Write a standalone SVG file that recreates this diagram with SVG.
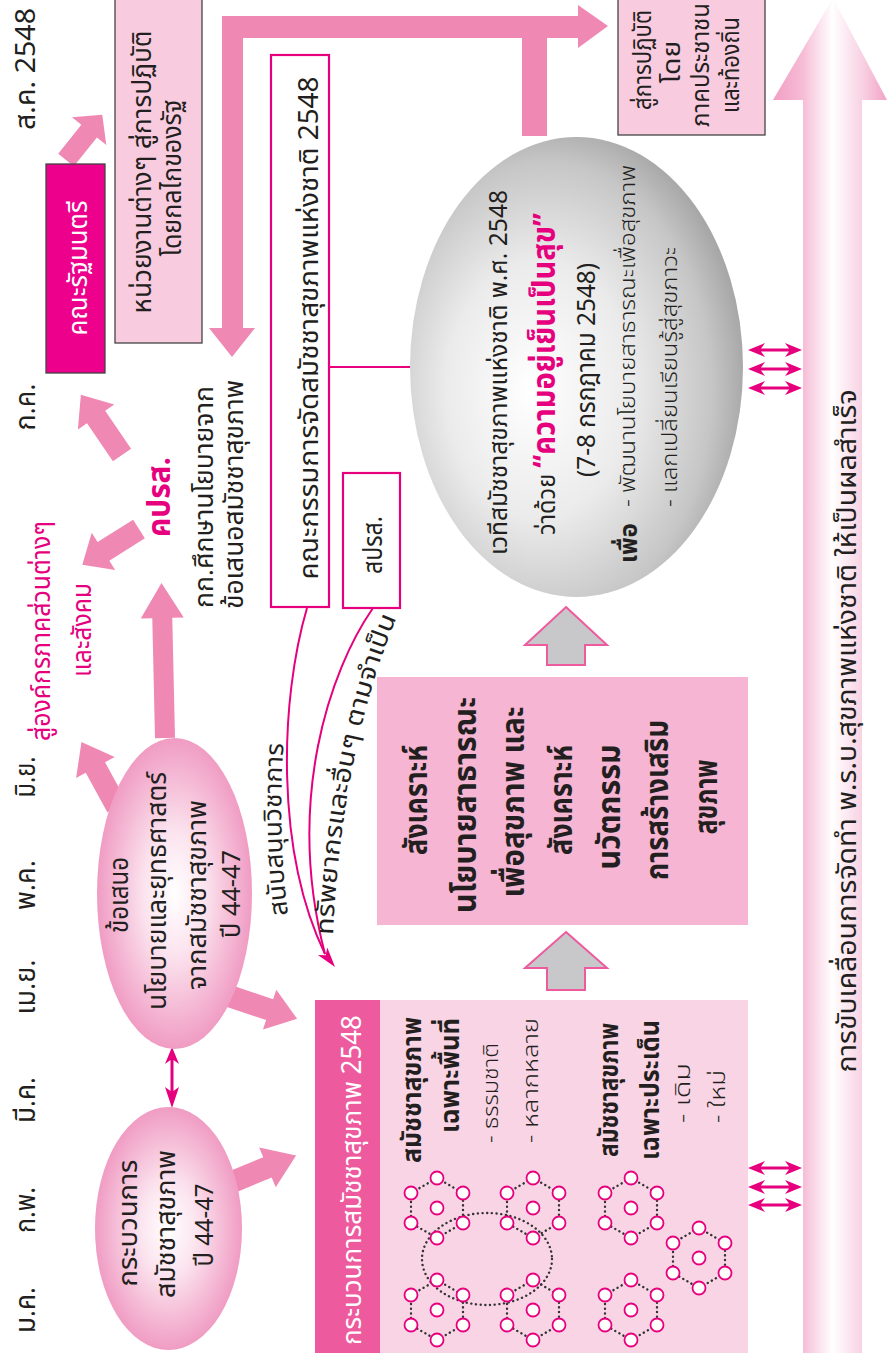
<svg xmlns="http://www.w3.org/2000/svg" width="888" height="1353" viewBox="0 0 888 1353">
<defs>
<style>
.t{font-family:"Noto Sans Thai","Noto Sans Thai Looped","Noto Sans","DejaVu Sans",sans-serif;fill:#231f20}
.mo{font-size:28px;text-anchor:middle}
.mid{text-anchor:middle}
.b{font-weight:bold}
.mag{fill:#e6007e}
.wh{fill:#fff}
.pk{fill:#f088b4}
.mline{fill:none;stroke:#e6007e;stroke-width:2}
.dot{fill:none;stroke:#333;stroke-width:2.4;stroke-linecap:round;stroke-dasharray:0.1 4.6}
.cir{fill:#fff;stroke:#e6007e;stroke-width:1.8}
.dbl{fill:#e6007e}
.garr{fill:#c8c8ca;stroke:#ee5a9e;stroke-width:2}
.box{stroke:#444;stroke-width:1.3}
</style>
<radialGradient id="gPink" cx="50%" cy="50%" r="50%">
<stop offset="0" stop-color="#ffffff"/>
<stop offset="0.4" stop-color="#fbe3ee"/>
<stop offset="1" stop-color="#f09cc3"/>
</radialGradient>
<radialGradient id="gGray" cx="0.42" cy="0.55" r="0.62" fx="0.36" fy="0.55">
<stop offset="0" stop-color="#ffffff"/>
<stop offset="0.45" stop-color="#ebebeb"/>
<stop offset="0.8" stop-color="#c6c6c6"/>
<stop offset="1" stop-color="#9e9e9e"/>
</radialGradient>
<linearGradient id="gArr" x1="773" y1="0" x2="887" y2="0" gradientUnits="userSpaceOnUse">
<stop offset="0" stop-color="#f29ec4"/>
<stop offset="0.26" stop-color="#f6bcd6"/>
<stop offset="0.52" stop-color="#ffffff"/>
<stop offset="0.78" stop-color="#f8d2e3"/>
<stop offset="1" stop-color="#f2a3c7"/>
</linearGradient>
<g id="hex">
<path class="dot" d="M0,-30 L26,-15 L26,15 L0,30 L-26,15 L-26,-15 Z"/>
<circle class="cir" cx="0" cy="-30" r="6.5"/>
<circle class="cir" cx="26" cy="-15" r="6.5"/>
<circle class="cir" cx="26" cy="15" r="6.5"/>
<circle class="cir" cx="0" cy="30" r="6.5"/>
<circle class="cir" cx="-26" cy="15" r="6.5"/>
<circle class="cir" cx="-26" cy="-15" r="6.5"/>
<circle class="cir" cx="0" cy="0" r="6.5"/>
</g>
<path id="dblH" d="M0,0 L17,-7 L13,-1.5 L41,-1.5 L37,-7 L54,0 L37,7 L41,1.5 L13,1.5 L17,7 Z"/>
<path id="pTxt1" d="M 333,935 C 338,820 360,700 400,610"/>
<path id="pTxt2" d="M 288,915 Q 277,830 284,738"/>
</defs>

<rect width="888" height="1353" fill="#fff"/>

<g id="months" class="t mo">
<text x="35" y="1310" textLength="46" lengthAdjust="spacingAndGlyphs" transform="rotate(-90 35 1310)">ม.ค.</text>
<text x="35" y="1210" textLength="46" lengthAdjust="spacingAndGlyphs" transform="rotate(-90 35 1210)">ก.พ.</text>
<text x="35" y="1100" textLength="46" lengthAdjust="spacingAndGlyphs" transform="rotate(-90 35 1100)">มี.ค.</text>
<text x="35" y="987" textLength="55" lengthAdjust="spacingAndGlyphs" transform="rotate(-90 35 987)">เม.ย.</text>
<text x="35" y="885" textLength="50" lengthAdjust="spacingAndGlyphs" transform="rotate(-90 35 885)">พ.ค.</text>
<text x="35" y="777" textLength="41" lengthAdjust="spacingAndGlyphs" transform="rotate(-90 35 777)">มิ.ย.</text>
<text x="35" y="407" textLength="47" lengthAdjust="spacingAndGlyphs" transform="rotate(-90 35 407)">ก.ค.</text>
<text x="35" y="69" textLength="122" lengthAdjust="spacingAndGlyphs" transform="rotate(-90 35 69)">ส.ค. 2548</text>
</g>

<g id="drive">
<polygon points="833,-2 887,100 862,100 862,1353 803,1353 803,100 773,100" fill="url(#gArr)"/>
<text class="t mid" font-size="27" x="856" y="731" textLength="683" lengthAdjust="spacingAndGlyphs" transform="rotate(-90 856 731)">การขับเคลื่อนการจัดทำ พ.ร.บ.สุขภาพแห่งชาติ ให้เป็นผลสำเร็จ</text>
</g>

<g id="connectors">
<polygon class="pk" points="232,357 255,328 243,328 243,38 522,38 522,136 547,136 547,38 578,38 578,48 608,26 578,5 578,16 222,16 222,328 209,328"/>
<polygon class="pk" transform="translate(66,160) rotate(-51.3)" points="0,-10 37,-10 37,-22 58,0 37,22 37,10 0,10"/>
<polygon class="pk" transform="translate(122,455) rotate(-124.3)" points="0,-11 46,-11 46,-22 73,0 46,22 46,11 0,11"/>
<polygon class="pk" transform="translate(139,529) rotate(147.8)" points="0,-11 42,-11 42,-22 67,0 42,22 42,11 0,11"/>
<polygon class="pk" transform="translate(165,738) rotate(-91.3)" points="0,-10 120,-10 120,-21.5 155,0 120,21.5 120,10 0,10"/>
<polygon class="pk" transform="translate(117,807) rotate(-118.7)" points="0,-11 45,-11 45,-22 74,0 45,22 45,11 0,11"/>
<polygon class="pk" transform="translate(226,995) rotate(18.5)" points="0,-11 46,-11 46,-21 75,0 46,21 46,11 0,11"/>
<polygon class="pk" transform="translate(225,1185) rotate(-22.6)" points="0,-11 46,-11 46,-21.5 77,0 46,21.5 46,11 0,11"/>
<polygon class="garr" points="566,607 607,645 585,645 585,665 547,665 547,645 525,645"/>
<polygon class="garr" points="566,932 607,968 585,968 585,990 547,990 547,968 525,968"/>
<line class="mline" x1="329" y1="367" x2="412" y2="367"/>
<path class="mline" d="M307,608 C280,700 275,850 325,954"/>
<path class="mline" d="M373,608 C330,670 285,800 325,954"/>
<polygon class="dbl" points="335,967 317.9,955 325.7,955.2 327.3,947.6"/>
<path class="dbl" d="M172,1047 L179,1064 L173.5,1060 L173.5,1091 L179,1087 L172,1108 L165,1087 L170.5,1091 L170.5,1060 L165,1064 Z"/>
<use href="#dblH" class="dbl" x="748" y="350"/>
<use href="#dblH" class="dbl" x="748" y="369"/>
<use href="#dblH" class="dbl" x="748" y="388"/>
<use href="#dblH" class="dbl" x="748" y="1168"/>
<use href="#dblH" class="dbl" x="748" y="1187"/>
<use href="#dblH" class="dbl" x="748" y="1205"/>
<text class="t" font-size="25"><textPath href="#pTxt1" textLength="325" lengthAdjust="spacingAndGlyphs">ทรัพยากรและอื่นๆ ตามจำเป็น</textPath></text>
<text class="t" font-size="25"><textPath href="#pTxt2" textLength="172" lengthAdjust="spacingAndGlyphs">สนับสนุนวิชาการ</textPath></text>
</g>

<g id="cabinet">
<rect class="box" x="46" y="164" width="59" height="209" fill="#ec008c"/>
<text class="t wh mid" font-size="26" x="87" y="268" textLength="135" lengthAdjust="spacingAndGlyphs" transform="rotate(-90 87 268)">คณะรัฐมนตรี</text>
</g>

<g id="agencies">
<rect class="box" x="115" y="-2" width="87" height="345" fill="#f9cbdf"/>
<text class="t mid" font-size="26" x="151" y="172" textLength="283" lengthAdjust="spacingAndGlyphs" transform="rotate(-90 151 172)">หน่วยงานต่างๆ สู่การปฏิบัติ</text>
<text class="t mid" font-size="26" x="181" y="178" textLength="157" lengthAdjust="spacingAndGlyphs" transform="rotate(-90 181 178)">โดยกลไกของรัฐ</text>
</g>

<g id="committee">
<rect x="271" y="55" width="58" height="552" fill="#fff" stroke="#e6007e" stroke-width="2.2"/>
<text class="t mid" font-size="27" x="318" y="328" textLength="503" lengthAdjust="spacingAndGlyphs" transform="rotate(-90 318 328)">คณะกรรมการจัดสมัชชาสุขภาพแห่งชาติ 2548</text>
</g>

<g id="spros">
<rect x="343" y="473" width="57" height="135" fill="#fff" stroke="#e6007e" stroke-width="2.2"/>
<text class="t mid" font-size="27" x="382" y="545" textLength="58" lengthAdjust="spacingAndGlyphs" transform="rotate(-90 382 545)">สปรส.</text>
</g>

<g id="kprs">
<text class="t mag b mid" font-size="31" x="170" y="497" textLength="80" lengthAdjust="spacingAndGlyphs" transform="rotate(-90 170 497)">คปรส.</text>
<text class="t" font-size="26" x="213" y="608" textLength="222" lengthAdjust="spacingAndGlyphs" transform="rotate(-90 213 608)">กก.ศึกษานโยบายจาก</text>
<text class="t" font-size="26" x="243" y="609" textLength="229" lengthAdjust="spacingAndGlyphs" transform="rotate(-90 243 609)">ข้อเสนอสมัชชาสุขภาพ</text>
</g>

<g id="society">
<text class="t mag mid" font-size="26" x="50" y="631" textLength="220" lengthAdjust="spacingAndGlyphs" transform="rotate(-90 50 631)">สู่องค์กรภาคส่วนต่างๆ</text>
<text class="t mag mid" font-size="26" x="91" y="630" textLength="94" lengthAdjust="spacingAndGlyphs" transform="rotate(-90 91 630)">และสังคม</text>
</g>

<g id="proposal">
<ellipse cx="174.5" cy="893.5" rx="77.5" ry="155.5" fill="url(#gPink)"/>
<text class="t mid" font-size="26" x="128" y="895" textLength="76" lengthAdjust="spacingAndGlyphs" transform="rotate(-90 128 895)">ข้อเสนอ</text>
<text class="t mid" font-size="26" x="166" y="891" textLength="238" lengthAdjust="spacingAndGlyphs" transform="rotate(-90 166 891)">นโยบายและยุทธศาสตร์</text>
<text class="t mid" font-size="26" x="206" y="895" textLength="190" lengthAdjust="spacingAndGlyphs" transform="rotate(-90 206 895)">จากสมัชชาสุขภาพ</text>
<text class="t mid" font-size="26" x="240" y="894" textLength="88" lengthAdjust="spacingAndGlyphs" transform="rotate(-90 240 894)">ปี 44-47</text>
</g>

<g id="process4447">
<ellipse cx="168.5" cy="1228.5" rx="73.5" ry="121.5" fill="url(#gPink)"/>
<text class="t mid" font-size="26" x="137" y="1223" textLength="127" lengthAdjust="spacingAndGlyphs" transform="rotate(-90 137 1223)">กระบวนการ</text>
<text class="t mid" font-size="26" x="175" y="1224" textLength="148" lengthAdjust="spacingAndGlyphs" transform="rotate(-90 175 1224)">สมัชชาสุขภาพ</text>
<text class="t mid" font-size="26" x="213" y="1225" textLength="83" lengthAdjust="spacingAndGlyphs" transform="rotate(-90 213 1225)">ปี 44-47</text>
</g>

<g id="process2548">
<rect x="315" y="1000" width="433" height="353" fill="#f9d4e5"/>
<rect x="315" y="1000" width="65" height="353" fill="#ee5a9e"/>
<text class="t wh mid" font-size="27" x="361" y="1180" textLength="330" lengthAdjust="spacingAndGlyphs" transform="rotate(-90 361 1180)">กระบวนการสมัชชาสุขภาพ 2548</text>
<text class="t b" font-size="27" x="421" y="1163" textLength="146" lengthAdjust="spacingAndGlyphs" transform="rotate(-90 421 1163)">สมัชชาสุขภาพ</text>
<text class="t b" font-size="27" x="459" y="1133" textLength="115" lengthAdjust="spacingAndGlyphs" transform="rotate(-90 459 1133)">เฉพาะพื้นที่</text>
<text class="t" font-size="22" font-weight="300" x="498" y="1143" textLength="100" lengthAdjust="spacingAndGlyphs" transform="rotate(-90 498 1143)">-  ธรรมชาติ</text>
<text class="t" font-size="22" font-weight="300" x="538" y="1143" textLength="125" lengthAdjust="spacingAndGlyphs" transform="rotate(-90 538 1143)">-  หลากหลาย</text>
<text class="t b" font-size="27" x="618" y="1157" textLength="134" lengthAdjust="spacingAndGlyphs" transform="rotate(-90 618 1157)">สมัชชาสุขภาพ</text>
<text class="t b" font-size="27" x="659" y="1160" textLength="140" lengthAdjust="spacingAndGlyphs" transform="rotate(-90 659 1160)">เฉพาะประเด็น</text>
<text class="t" font-size="22" font-weight="300" x="690" y="1123" textLength="60" lengthAdjust="spacingAndGlyphs" transform="rotate(-90 690 1123)">-  เดิม</text>
<text class="t" font-size="22" font-weight="300" x="725" y="1123" textLength="53" lengthAdjust="spacingAndGlyphs" transform="rotate(-90 725 1123)">-  ใหม่</text>
<ellipse class="dot" cx="487" cy="1259" rx="65" ry="46"/>
<use href="#hex" x="437" y="1208"/>
<use href="#hex" x="533" y="1208"/>
<use href="#hex" x="437" y="1310"/>
<use href="#hex" x="533" y="1310"/>
<use href="#hex" x="631" y="1208"/>
<use href="#hex" x="699" y="1258"/>
<use href="#hex" x="631" y="1310"/>
</g>

<g id="synthesis">
<rect x="377" y="677" width="371" height="248" fill="#f5b5d3"/>
<g class="t b mid" font-size="32">
<text x="427" y="800" textLength="110" lengthAdjust="spacingAndGlyphs" transform="rotate(-90 427 800)">สังเคราะห์</text>
<text x="476" y="805" textLength="216" lengthAdjust="spacingAndGlyphs" transform="rotate(-90 476 805)">นโยบายสาธารณะ</text>
<text x="524" y="802" textLength="191" lengthAdjust="spacingAndGlyphs" transform="rotate(-90 524 802)">เพื่อสุขภาพ และ</text>
<text x="572" y="800" textLength="110" lengthAdjust="spacingAndGlyphs" transform="rotate(-90 572 800)">สังเคราะห์</text>
<text x="620" y="807" textLength="125" lengthAdjust="spacingAndGlyphs" transform="rotate(-90 620 807)">นวัตกรรม</text>
<text x="668" y="800" textLength="160" lengthAdjust="spacingAndGlyphs" transform="rotate(-90 668 800)">การสร้างเสริม</text>
<text x="717" y="797" textLength="75" lengthAdjust="spacingAndGlyphs" transform="rotate(-90 717 797)">สุขภาพ</text>
</g>
</g>

<g id="forum">
<ellipse cx="576.5" cy="367" rx="166.5" ry="230" fill="url(#gGray)"/>
<text class="t" font-size="25" x="507" y="555" textLength="365" lengthAdjust="spacingAndGlyphs" transform="rotate(-90 507 555)">เวทีสมัชชาสุขภาพแห่งชาติ พ.ศ. 2548</text>
<text class="t" font-size="25" x="555" y="535" textLength="322" lengthAdjust="spacingAndGlyphs" transform="rotate(-90 555 535)">ว่าด้วย <tspan class="mag b" font-size="31">“ความอยู่เย็นเป็นสุข”</tspan></text>
<text class="t mid" font-size="26" x="595" y="370" textLength="214" lengthAdjust="spacingAndGlyphs" transform="rotate(-90 595 370)">(7-8 กรกฎาคม 2548)</text>
<text class="t b" font-size="25" x="637" y="563" textLength="40" lengthAdjust="spacingAndGlyphs" transform="rotate(-90 637 563)">เพื่อ</text>
<text class="t" font-size="22" font-weight="300" x="635" y="507" textLength="342" lengthAdjust="spacingAndGlyphs" transform="rotate(-90 635 507)">-  พัฒนานโยบายสาธารณะเพื่อสุขภาพ</text>
<text class="t" font-size="22" font-weight="300" x="677" y="507" textLength="260" lengthAdjust="spacingAndGlyphs" transform="rotate(-90 677 507)">-  แลกเปลี่ยนเรียนรู้สู่สุขภาวะ</text>
</g>

<g id="people">
<rect class="box" x="618" y="-2" width="147" height="137" fill="#f9cbdf"/>
<g class="t mid" font-size="24">
<text x="651" y="60" textLength="100" lengthAdjust="spacingAndGlyphs" transform="rotate(-90 651 60)">สู่การปฏิบัติ</text>
<text x="680" y="62" textLength="43" lengthAdjust="spacingAndGlyphs" transform="rotate(-90 680 62)">โดย</text>
<text x="709" y="65" textLength="124" lengthAdjust="spacingAndGlyphs" transform="rotate(-90 709 65)">ภาคประชาชน</text>
<text x="739" y="65" textLength="96" lengthAdjust="spacingAndGlyphs" transform="rotate(-90 739 65)">และท้องถิ่น</text>
</g>
</g>
</svg>
